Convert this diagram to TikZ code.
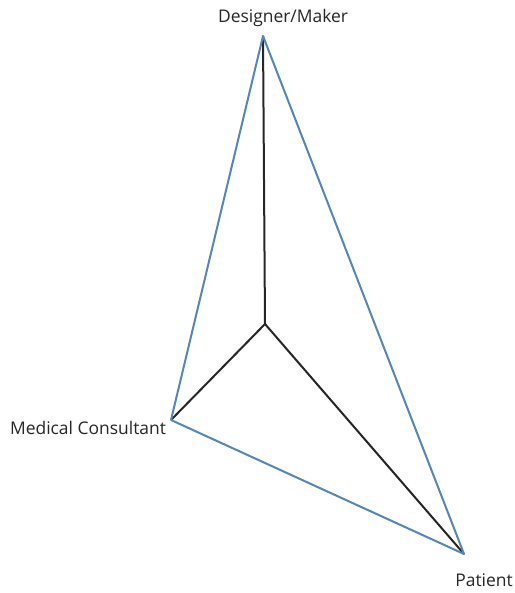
\documentclass[tikz,border=0pt]{standalone}
\usepackage{fontspec}
\setmainfont{Open Sans}
\definecolor{edgeblue}{RGB}{84,134,184}
\begin{document}
\begin{tikzpicture}[x=1bp,y=1bp]
\useasboundingbox (0,0) rectangle (515,593);
\tikzset{outer/.style={draw=edgeblue,line width=2bp},
         inner/.style={draw=black!85,line width=2bp},
         lbl/.style={font=\fontsize{17.5}{20}\selectfont,text=black!85,inner sep=0pt}}

\coordinate (designer) at (263,557);
\coordinate (consultant) at (171,173);
\coordinate (patient) at (464,39);
\coordinate (hub) at (265,269);

\node[lbl] (designerlbl) at (283,575) {Designer/Maker};
\node[lbl] (consultantlbl) at (88,165) {Medical Consultant};
\node[lbl] (patientlbl) at (484,13) {Patient};

\draw[inner] (hub) -- (designer);
\draw[inner] (hub) -- (consultant);
\draw[inner] (hub) -- (patient);

\draw[outer,line join=round] (designer) -- (consultant) -- (patient) -- cycle;
\end{tikzpicture}
\end{document}
